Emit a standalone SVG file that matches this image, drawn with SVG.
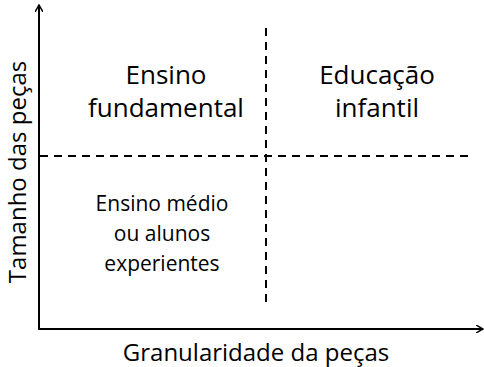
<svg xmlns="http://www.w3.org/2000/svg" width="484" height="367" viewBox="0 0 484 367">
<style>
.t{font-family:"Open Sans","Liberation Sans",sans-serif;fill:#000;text-anchor:middle}
.big{font-size:26px}
.ax-l{font-size:24px}
.sm{font-size:21px}
.ax{stroke:#000;stroke-width:2;fill:none}
.dash{stroke:#000;stroke-width:2;stroke-dasharray:8,6;fill:none}
</style>
<defs>
<marker id="arr" markerWidth="8" markerHeight="8" refX="6" refY="4" orient="auto" markerUnits="userSpaceOnUse">
<path d="M0,0 L7,4 L0,8" fill="none" stroke="#000" stroke-width="1.5"/>
</marker>
</defs>
<g id="connectors">
<line class="ax" x1="39" y1="330" x2="39" y2="6" marker-end="url(#arr)"/>
<line class="ax" x1="38" y1="329" x2="482" y2="329" marker-end="url(#arr)"/>
<line class="dash" x1="266" y1="28" x2="266" y2="305"/>
<line class="dash" x1="40" y1="156" x2="470" y2="156"/>
</g>
<g id="q1"><text class="t big" x="166" y="84">Ensino</text><text class="t big" x="166" y="117">fundamental</text></g>
<g id="q2"><text class="t big" x="377" y="84">Educação</text><text class="t big" x="377" y="117">infantil</text></g>
<g id="q3"><text class="t sm" x="162" y="211">Ensino médio</text><text class="t sm" x="162" y="241">ou alunos</text><text class="t sm" x="162" y="271">experientes</text></g>
<g id="xlabel"><text class="t ax-l" x="256" y="361">Granularidade da peças</text></g>
<g id="ylabel"><text class="t ax-l" transform="translate(26,172) rotate(-90)">Tamanho das peças</text></g>
</svg>
